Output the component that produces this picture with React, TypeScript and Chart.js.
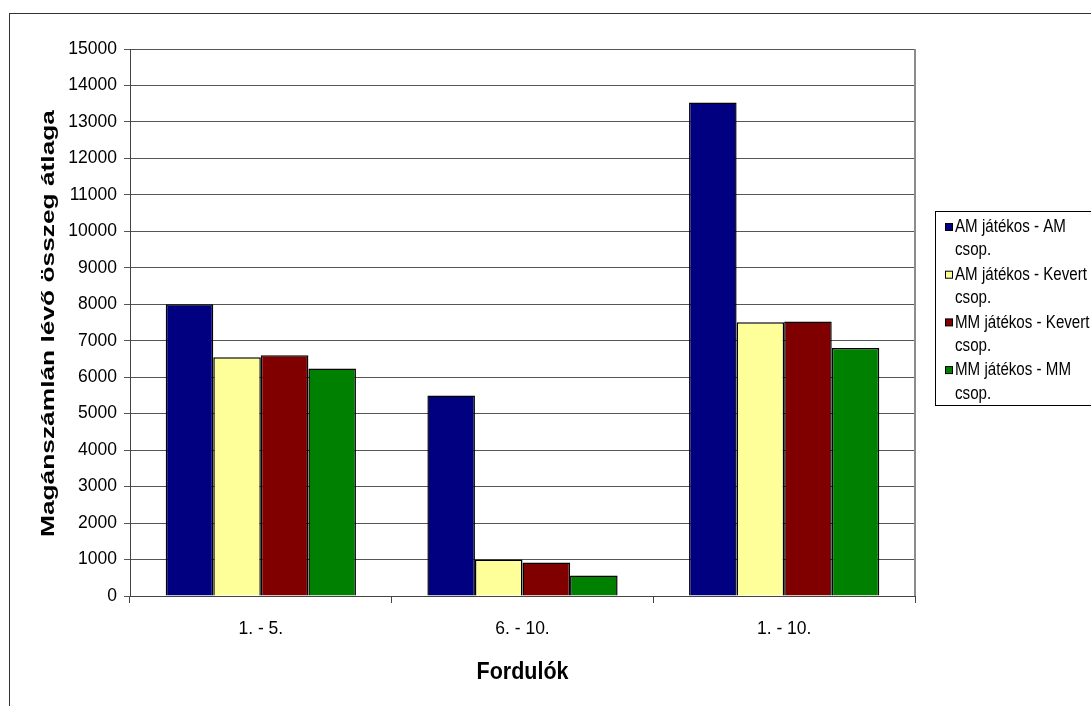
import React, { useEffect, useRef } from "react";
import { Chart, registerables } from "chart.js";

Chart.register(...registerables);

// Round groups on the category axis
const categories = ["1. - 5.", "6. - 10.", "1. - 10."];

// Series names and averages of the private account balance
const seriesNames = [
  "AM játékos - AM csop.",
  "AM játékos - Kevert csop.",
  "MM játékos - Kevert csop.",
  "MM játékos - MM csop.",
];
const amAm = [8000, 5500, 13530];
const amKevert = [6550, 1000, 7510];
const mmKevert = [6600, 920, 7530];
const mmMm = [6240, 560, 6800];
const seriesColors = ["#000080", "#FFFF99", "#800000", "#008000"];

const yTicksMin = 0;
const yTicksMax = 15000;
const yTicksStep = 1000;

const yTitle = "Magánszámlán lévő összeg átlaga";
const xTitle = "Fordulók";

const SANS = "'Liberation Sans', Arial, sans-serif";

// Frame, plot border, axis titles and the boxed legend on the right
const decorations = {
  id: "decorations",
  afterDraw(chart: any) {
    const { ctx, chartArea } = chart;
    ctx.save();

    // outer chart frame (open to the right and bottom)
    ctx.strokeStyle = "#333";
    ctx.lineWidth = 1;
    ctx.strokeRect(9.5, 13.5, 1200, 1000);

    // right edge of the plot area
    ctx.strokeStyle = "#8c8c8c";
    ctx.lineWidth = 2;
    ctx.beginPath();
    ctx.moveTo(chartArea.right, chartArea.top);
    ctx.lineTo(chartArea.right, chartArea.bottom);
    ctx.stroke();

    // y axis title, rotated and stretched along its length
    ctx.fillStyle = "#000";
    ctx.font = `bold 18px ${SANS}`;
    const wy = ctx.measureText(yTitle).width;
    ctx.save();
    ctx.translate(54, (chartArea.top + chartArea.bottom) / 2 + 1);
    ctx.rotate(-Math.PI / 2);
    ctx.scale(427 / wy, 1);
    ctx.textAlign = "center";
    ctx.textBaseline = "alphabetic";
    ctx.fillText(yTitle, 0, 0);
    ctx.restore();

    // x axis title
    ctx.font = `bold 20px ${SANS}`;
    const wx = ctx.measureText(xTitle).width;
    ctx.save();
    ctx.translate((chartArea.left + chartArea.right) / 2, 679);
    ctx.scale(92 / wx, 1.15);
    ctx.textAlign = "center";
    ctx.textBaseline = "alphabetic";
    ctx.fillText(xTitle, 0, 0);
    ctx.restore();

    // legend box
    ctx.strokeStyle = "#000";
    ctx.lineWidth = 1;
    ctx.fillStyle = "#fff";
    ctx.fillRect(935.5, 211.5, 200, 194);
    ctx.strokeRect(935.5, 211.5, 200, 194);

    ctx.font = `17px ${SANS}`;
    ctx.textAlign = "left";
    ctx.textBaseline = "middle";
    chart.data.datasets.forEach((ds: any, i: number) => {
      const words = String(ds.label).split(" ");
      const last = words.pop();
      const lines = [words.join(" "), last];
      const y0 = 227 + i * 47.7;
      ctx.fillStyle = ds.backgroundColor;
      ctx.fillRect(945.5, y0 - 3.5, 7, 7);
      ctx.strokeStyle = "#000";
      ctx.strokeRect(945.5, y0 - 3.5, 7, 7);
      ctx.fillStyle = "#000";
      lines.forEach((t, k) => {
        ctx.save();
        ctx.translate(955, y0 + k * 23.3);
        ctx.scale(0.89, 1.1);
        ctx.fillText(t as string, 0, 0);
        ctx.restore();
      });
    });

    ctx.restore();
  },
};

export default function App() {
  const ref = useRef<HTMLCanvasElement>(null);

  useEffect(() => {
    document.body.style.margin = "0";
    const series = [amAm, amKevert, mmKevert, mmMm];
    const chart = new Chart(ref.current as HTMLCanvasElement, {
      type: "bar",
      data: {
        labels: categories,
        datasets: series.map((values, i) => ({
          label: seriesNames[i],
          data: values,
          backgroundColor: seriesColors[i],
          borderColor: "#000",
          borderWidth: 1.5,
          categoryPercentage: 0.727,
          barPercentage: 1,
        })),
      },
      options: {
        responsive: false,
        animation: false,
        layout: { padding: { top: 49, right: 176, left: 0, bottom: 0 } },
        plugins: {
          legend: { display: false },
          tooltip: { enabled: false },
        },
        scales: {
          x: {
            afterFit: (s: any) => {
              s.height = 110;
            },
            grid: {
              display: true,
              offset: true,
              drawOnChartArea: false,
              drawTicks: true,
              tickLength: 7,
              color: "#444",
            },
            border: { display: true, color: "#444", width: 1 },
            ticks: {
              color: "#000",
              font: { family: SANS, size: 17.5 },
              padding: 16,
            },
          },
          y: {
            min: yTicksMin,
            max: yTicksMax,
            afterFit: (s: any) => {
              s.width = 130;
            },
            grid: {
              color: "#555",
              lineWidth: 1,
              tickLength: 6,
            },
            border: { display: true, color: "#444", width: 1 },
            ticks: {
              stepSize: yTicksStep,
              color: "#000",
              font: { family: SANS, size: 17.5 },
              padding: 7,
              callback: (v: any) => String(v),
            },
          },
        },
      },
      plugins: [decorations],
    });
    return () => chart.destroy();
  }, []);

  return <canvas ref={ref} width={1091} height={706} style={{ display: "block" }} />;
}
